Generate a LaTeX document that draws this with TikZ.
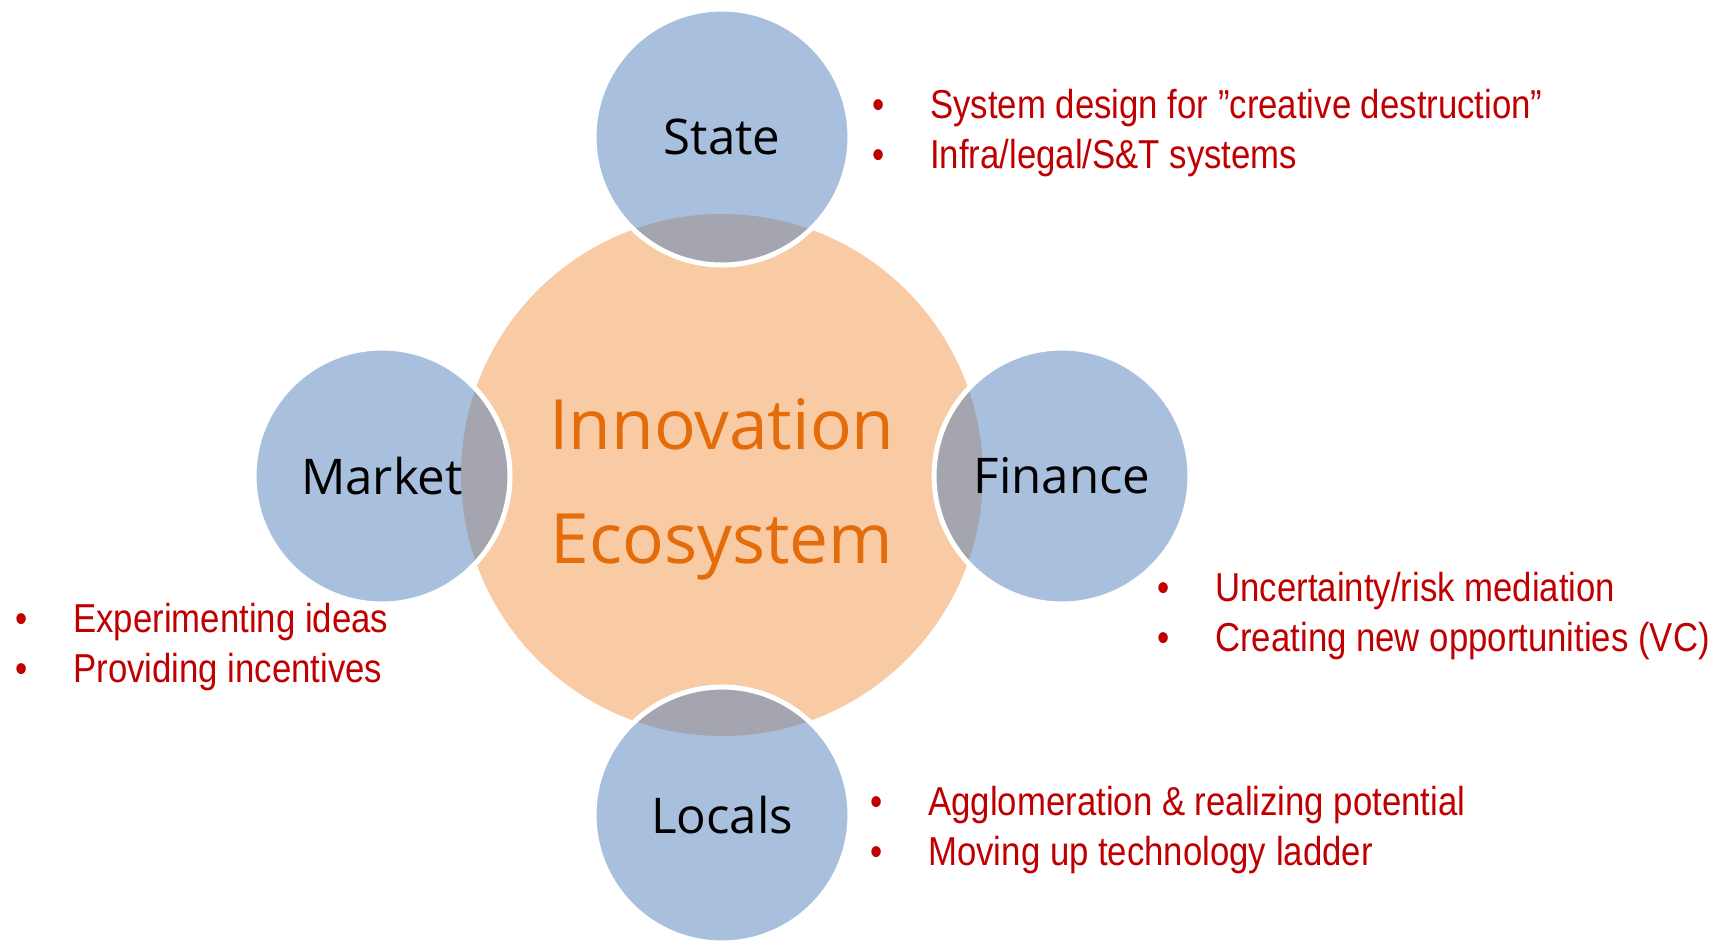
\documentclass[tikz,border=0pt]{standalone}
\usepackage{fontspec}
\setmainfont{Open Sans}
\newfontfamily\notefont[FakeStretch=0.86]{Liberation Sans}
\usepackage{tikz}
\usetikzlibrary{backgrounds}
\definecolor{hubfill}{HTML}{F9CBA5}
\definecolor{hubtext}{HTML}{E46C0A}
\definecolor{actorfill}{HTML}{A8C0DE}
\definecolor{lensgray}{HTML}{A5A5AF}
\definecolor{notered}{HTML}{C00000}
\newcommand\blt{\makebox[1.16cm][l]{\textbullet}}
\tikzset{
  hub/.style={circle,minimum size=10.46cm,inner sep=0pt},
  hubtitle/.style={align=center,inner sep=0pt,text=hubtext,
    font=\fontsize{39.5}{65}\selectfont},
  actor/.style={circle,minimum size=5.12cm,inner sep=0pt,draw=white,
    line width=0.1cm,font=\fontsize{28}{34}\selectfont},
  note/.style={anchor=west,inner sep=0pt,align=left,text=notered,
    font=\notefont\fontsize{23}{28.4}\selectfont}
}

\begin{document}
\begin{tikzpicture}[x=0.02cm,y=-0.02cm]
  \useasboundingbox (0,0) rectangle (1720,941);
  % ecosystem in the middle, four actors around it
  \node[hub] (eco) at (722,475) {};
  \node[hubtitle] (ecotitle) at (722,489) {Innovation\\Ecosystem};
  \node[actor] (state) at (722,137) {State};
  \node[actor] (market) at (382,476) {Market};
  \node[actor] (finance) at (1062,476) {Finance};
  \node[actor] (locals) at (722,815) {Locals};

  % fills go underneath the borders and labels
  \begin{scope}[on background layer]
    \fill[hubfill] (eco.center) circle (261);
    \foreach \a in {state,market,finance,locals}{
      \fill[actorfill] (\a.center) circle (128);
      \begin{scope}
        \clip (\a.center) circle (128);
        \fill[lensgray] (eco.center) circle (261);
      \end{scope}
    }
  \end{scope}

  % what each actor brings
  \node[note] (statenotes) at (872,133)
    {\blt System design for ”creative destruction”\\\blt Infra/legal/S\&T systems};
  \node[note] (marketnotes) at (15,647)
    {\blt Experimenting ideas\\\blt Providing incentives};
  \node[note] (financenotes) at (1157,616)
    {\blt Uncertainty/risk mediation\\\blt Creating new opportunities (VC)};
  \node[note] (localnotes) at (870,830)
    {\blt Agglomeration \& realizing potential\\\blt Moving up technology ladder};
\end{tikzpicture}
\end{document}
